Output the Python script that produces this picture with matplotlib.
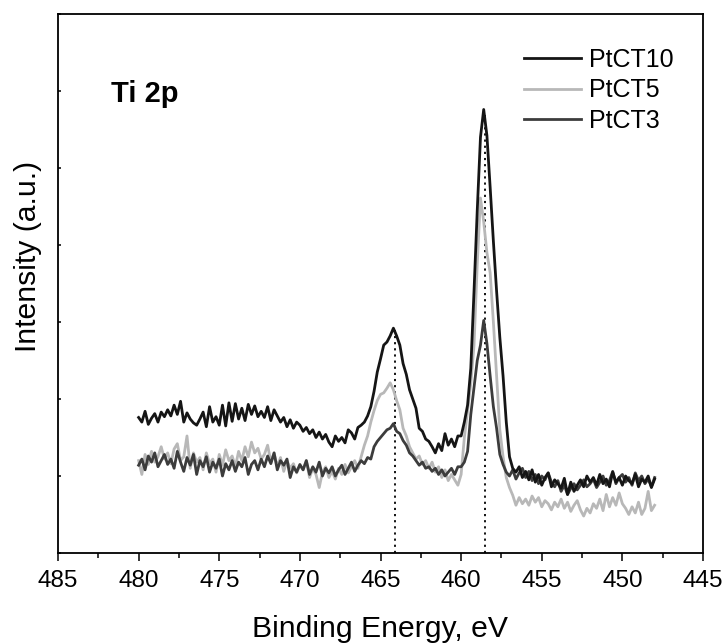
import numpy as np
import matplotlib
matplotlib.use('Agg')
import matplotlib.pyplot as plt
from matplotlib.ticker import MultipleLocator

plt.rcParams['font.family'] = ['Liberation Sans', 'DejaVu Sans']

# ------------------------------------------------------------
# Data, 0.2 eV steps 480 -> 448
# ------------------------------------------------------------
energy = np.round(np.linspace(480.0, 448.0, 161), 2)

ptct10 = [
    1.76, 1.70, 1.84, 1.67, 1.75, 1.81, 1.70, 1.83, 1.77, 1.86,
    1.78, 1.92, 1.80, 1.97, 1.70, 1.82, 1.74, 1.69, 1.66, 1.74,
    1.83, 1.64, 1.90, 1.70, 1.77, 1.66, 1.92, 1.65, 1.95, 1.71,
    1.94, 1.74, 1.88, 1.72, 1.93, 1.80, 1.91, 1.77, 1.84, 1.76,
    1.90, 1.72, 1.86, 1.78, 1.70, 1.76, 1.64, 1.73, 1.62, 1.70,
    1.66, 1.58, 1.63, 1.55, 1.60, 1.50, 1.57, 1.48, 1.54, 1.44,
    1.38, 1.52, 1.45, 1.50, 1.43, 1.60, 1.56, 1.48, 1.63, 1.66,
    1.70, 1.78, 1.90, 2.10, 2.35, 2.52, 2.70, 2.74, 2.82, 2.92,
    2.82, 2.70, 2.46, 2.32, 2.12, 2.00, 1.88, 1.62, 1.58, 1.48,
    1.45, 1.38, 1.30, 1.42, 1.33, 1.55, 1.40, 1.48, 1.38, 1.52,
    1.52, 1.70, 1.92, 2.40, 3.40, 4.45, 5.40, 5.76, 5.42, 4.75,
    4.05, 3.40, 2.80, 2.30, 1.70, 1.25, 1.10, 1.05, 1.12, 0.98,
    1.06, 0.95, 1.08, 0.92, 1.02, 0.88, 0.98, 1.04, 0.86, 0.95,
    0.90, 0.84, 0.97, 0.76, 0.92, 0.80, 0.88, 0.95, 0.86, 1.00,
    0.92, 0.98, 0.88, 1.02, 0.90, 0.96, 0.86, 1.05, 0.92, 0.98,
    0.88, 1.00, 0.94, 0.90, 1.02, 0.86, 0.96, 0.92, 1.00, 0.85,
    0.96,
]

ptct5 = [
    1.20, 1.02, 1.28, 1.15, 1.32, 1.18, 1.25, 1.38, 1.22, 1.30,
    1.16, 1.35, 1.42, 1.20, 1.25, 1.52, 1.10, 1.30, 1.18, 1.24,
    1.08, 1.30, 1.16, 1.22, 1.05, 1.28, 1.14, 1.34, 1.20, 1.26,
    1.12, 1.32, 1.20, 1.38, 1.25, 1.44, 1.30, 1.36, 1.22, 1.28,
    1.40, 1.18, 1.30, 1.12, 1.24, 1.06, 1.20, 1.10, 1.16, 1.04,
    1.14, 1.08, 1.20, 0.98, 1.10, 1.02, 0.85, 1.05, 1.12, 0.98,
    1.06, 0.96, 1.10, 1.02, 1.15, 1.04, 1.12, 1.20, 1.10, 1.25,
    1.40, 1.52, 1.70, 1.85, 1.98, 2.06, 2.08, 2.14, 2.21, 2.12,
    1.98, 1.86, 1.62, 1.52, 1.38, 1.30, 1.22, 1.26, 1.15, 1.20,
    1.10, 1.18, 1.05, 1.12, 0.98, 1.08, 0.94, 1.02, 0.95, 0.88,
    1.02, 1.50, 1.85, 2.20, 2.70, 3.75, 4.61, 4.30, 3.90, 3.64,
    3.00, 2.30, 1.60, 1.25, 0.98, 0.85, 0.75, 0.62, 0.72, 0.64,
    0.70, 0.62, 0.74, 0.66, 0.72, 0.60, 0.68, 0.64, 0.56, 0.66,
    0.60, 0.70, 0.58, 0.66, 0.54, 0.62, 0.68, 0.56, 0.48, 0.58,
    0.52, 0.64, 0.58, 0.70, 0.55, 0.76, 0.60, 0.72, 0.62, 0.78,
    0.64, 0.58, 0.50, 0.60, 0.52, 0.66, 0.50, 0.58, 0.80, 0.55,
    0.62,
]

ptct3 = [
    1.14, 1.22, 1.08, 1.26, 1.18, 1.30, 1.12, 1.20, 1.28, 1.15,
    1.22, 1.10, 1.32, 1.18, 1.06, 1.24, 1.14, 1.28, 1.02, 1.20,
    1.12, 1.25, 1.05, 1.18, 1.10, 1.22, 1.00, 1.16, 1.08, 1.20,
    1.06, 1.18, 1.12, 1.24, 1.02, 1.15, 1.20, 1.08, 1.22, 1.12,
    1.26, 1.16, 1.30, 1.08, 1.20, 1.14, 1.22, 0.98, 1.12, 1.05,
    1.15, 1.08, 1.20, 1.02, 1.12, 1.05, 1.18, 1.00, 1.10, 1.04,
    1.12, 1.00, 1.08, 1.14, 1.02, 1.10, 1.18, 1.06, 1.14, 1.20,
    1.16, 1.24, 1.22, 1.38, 1.45, 1.50, 1.55, 1.60, 1.62, 1.68,
    1.58, 1.55, 1.46, 1.40, 1.30, 1.26, 1.20, 1.14, 1.18, 1.10,
    1.12, 1.06, 1.10, 1.02, 1.08, 1.00, 1.05, 1.10, 1.02, 1.12,
    1.12, 1.18, 1.32, 1.80, 2.15, 2.50, 2.70, 3.02, 2.72, 2.30,
    1.90, 1.62, 1.28, 1.15, 1.05, 1.00, 1.08, 0.96, 1.04, 1.10,
    0.98, 1.06, 0.94, 1.02, 0.90, 1.00, 0.95, 1.04, 0.92, 0.86,
    0.94, 0.80, 0.88, 0.76, 0.84, 0.90, 0.82, 0.88, 0.95, 0.86,
    0.90, 0.96, 0.85, 0.92, 1.00, 0.88, 0.94, 1.06, 0.90, 0.98,
    1.02, 0.92, 0.98, 0.88, 1.04, 0.94, 1.00, 0.90, 0.96, 0.86,
    0.98,
]

# peak positions marked with dotted lines, and their heights
peak_pos = [464.1, 458.55]
peak_top = [2.90, 5.72]

# ------------------------------------------------------------
# Figure
# ------------------------------------------------------------
fig = plt.figure(figsize=(7.25, 6.44), dpi=100)
ax = fig.add_axes([58 / 725, 1 - 553 / 644, 645 / 725, 539 / 644])

ax.vlines(peak_pos, 0, peak_top, colors='black', linestyles=(0, (1.2, 2.2)),
          linewidth=1.3, zorder=1)

l5, = ax.plot(energy, ptct5, color='#b8b8b8', lw=2.0, label='PtCT5', zorder=2)
l3, = ax.plot(energy, ptct3, color='#3c3c3c', lw=2.0, label='PtCT3', zorder=3)
l10, = ax.plot(energy, ptct10, color='#151515', lw=2.0, label='PtCT10', zorder=4)

ax.set_xlim(485, 445)
ax.set_ylim(0, 7)
ax.xaxis.set_major_locator(MultipleLocator(5))
ax.xaxis.set_minor_locator(MultipleLocator(2.5))
ax.set_yticks(np.arange(0, 8, 1))
ax.set_yticklabels([])

ax.tick_params(axis='x', which='major', direction='out', length=6, width=1.1,
               labelsize=17.5, pad=6.5, top=False)
ax.tick_params(axis='x', which='minor', direction='out', length=3.5, width=1.1,
               top=False)
ax.tick_params(axis='y', which='major', direction='in', length=2.5, width=1.1,
               right=False)
for sp in ax.spines.values():
    sp.set_linewidth(1.3)

ax.set_xlabel('Binding Energy, eV', fontsize=21.7, labelpad=16)
ax.set_ylabel('Intensity (a.u.)', fontsize=21.7)
ax.yaxis.set_label_coords(-0.025, 0.551)

ax.text(0.082, 0.852, 'Ti 2p', transform=ax.transAxes, fontsize=21,
        fontweight='bold', ha='left', va='center')

ax.legend(handles=[l10, l5, l3], loc='upper left',
          bbox_to_anchor=(0.722, 0.937), frameon=False, fontsize=18,
          handlelength=2.3, handletextpad=0.3, labelspacing=0.26,
          borderpad=0, borderaxespad=0)

fig.savefig('out.png', dpi=100)
